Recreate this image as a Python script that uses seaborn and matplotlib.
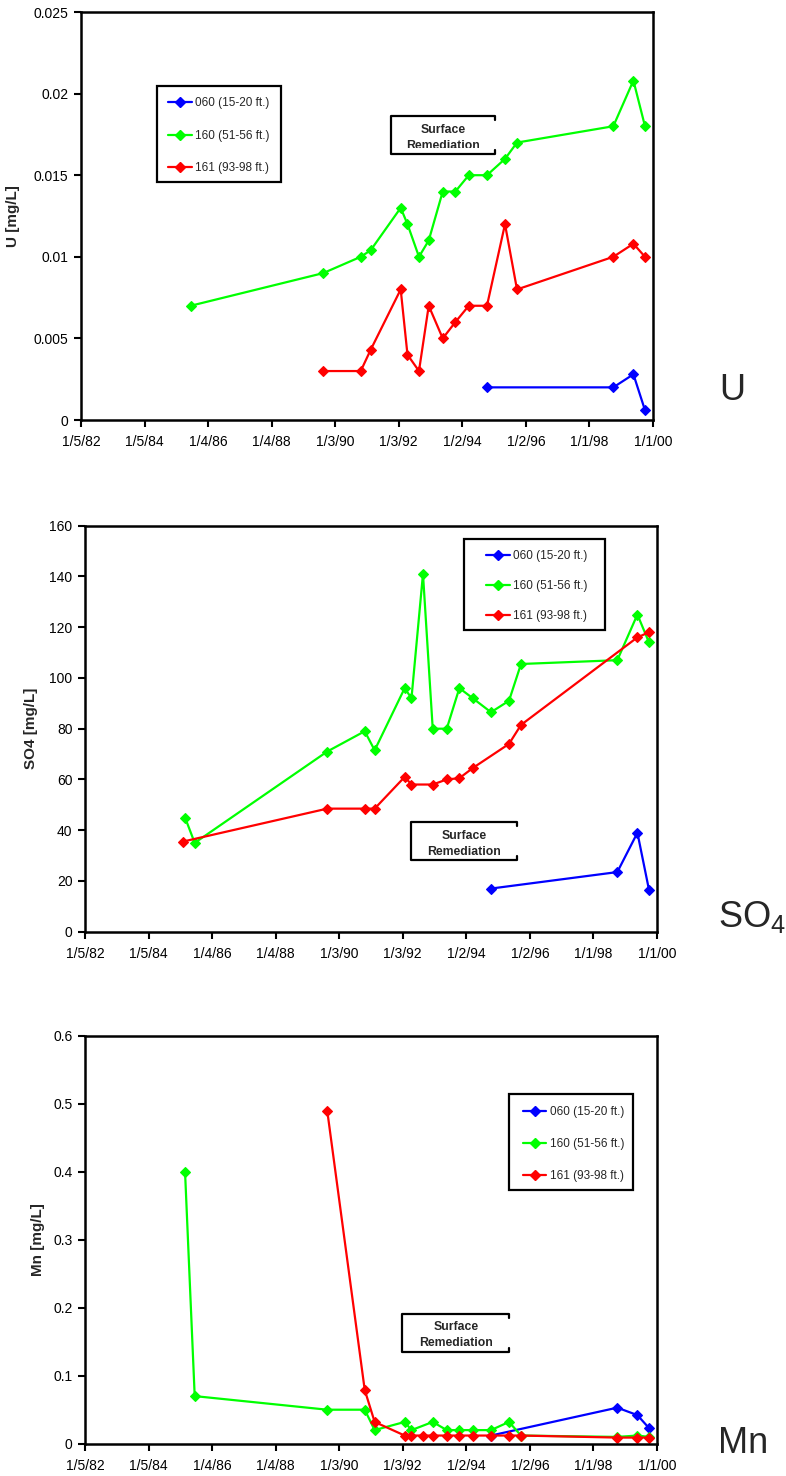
import pandas as pd
import matplotlib
matplotlib.use("Agg")
import matplotlib.pyplot as plt
from matplotlib.lines import Line2D
from matplotlib.patches import Rectangle
from matplotlib.transforms import Bbox, TransformedBbox
import seaborn as sns

W, H = 786, 1476

wells = ["060 (15-20 ft.)", "160 (51-56 ft.)", "161 (93-98 ft.)"]
well_colors = ["#0000ff", "#00ff00", "#ff0000"]

# sampling dates shared by all wells
sample_dates = [
    "1985-02-01", "1985-02-27", "1985-06-18", "1989-08-18", "1990-10-23",
    "1991-02-14", "1992-01-25", "1992-04-12", "1992-08-22", "1992-12-12",
    "1993-05-22", "1993-10-14", "1994-03-17", "1994-10-12", "1995-05-07",
    "1995-09-22", "1998-10-02", "1999-05-21", "1999-10-01",
]

axis_start = "1982-01-05"
axis_end = "2000-01-01"
tick_labels = ["1/5/82", "1/5/84", "1/4/86", "1/4/88", "1/3/90",
               "1/3/92", "1/2/94", "1/2/96", "1/1/98", "1/1/00"]

N = None
# uranium, mg/L
u_060 = [N, N, N, N, N, N, N, N, N, N, N, N, N, 0.002, N, N, 0.002, 0.0028, 0.0006]
u_160 = [N, N, 0.007, 0.009, 0.010, 0.0104, 0.013, 0.012, 0.010, 0.011,
         0.014, 0.014, 0.015, 0.015, 0.016, 0.017, 0.018, 0.0208, 0.018]
u_161 = [N, N, N, 0.003, 0.003, 0.0043, 0.008, 0.004, 0.003, 0.007,
         0.005, 0.006, 0.007, 0.007, 0.012, 0.008, 0.010, 0.0108, 0.010]

# sulfate, mg/L
so4_060 = [N, N, N, N, N, N, N, N, N, N, N, N, N, 17, N, N, 23.5, 39, 16.5]
so4_160 = [N, 45, 35, 71, 79, 71.5, 96, 92, 141, 80,
           80, 96, 92, 86.5, 91, 105.5, 107, 125, 114]
so4_161 = [35.5, N, N, 48.5, 48.5, 48.5, 61, 58, N, 58,
           60, 60.5, 64.5, N, 74, 81.5, N, 116, 118]

# manganese, mg/L
mn_060 = [N, N, N, N, N, N, N, N, N, N, N, N, N, 0.012, N, N, 0.053, 0.042, 0.023]
mn_160 = [N, 0.40, 0.07, 0.05, 0.05, 0.02, 0.032, 0.02, N, 0.032,
          0.02, 0.02, 0.02, 0.02, 0.032, 0.012, 0.010, 0.012, 0.010]
mn_161 = [N, N, N, 0.49, 0.079, 0.032, 0.012, 0.012, 0.012, 0.012,
          0.012, 0.012, 0.012, 0.012, 0.012, 0.012, 0.009, 0.009, 0.009]

u_ticks = [0, 0.005, 0.01, 0.015, 0.02, 0.025]
u_ticklabels = ["0", "0.005", "0.01", "0.015", "0.02", "0.025"]
so4_ticks = [0, 20, 40, 60, 80, 100, 120, 140, 160]
so4_ticklabels = [str(t) for t in so4_ticks]
mn_ticks = [0, 0.1, 0.2, 0.3, 0.4, 0.5, 0.6]
mn_ticklabels = ["0", "0.1", "0.2", "0.3", "0.4", "0.5", "0.6"]


def long_frame(series):
    rows = []
    for well, values in zip(wells, series):
        for d, v in zip(sample_dates, values):
            if v is not None:
                rows.append({"date": pd.Timestamp(d), "value": v, "well": well})
    return pd.DataFrame(rows)


def frac(box, x, y):
    l, t, r, b = box
    return (x - l) / (r - l), (b - y) / (b - t)


panels = [
    dict(box=(81, 12, 653, 420), data=[u_060, u_160, u_161],
         ticks=u_ticks, ticklabels=u_ticklabels, ylabel="U [mg/L]", ylabel_x=20,
         legend_box=(157, 86, 281, 182), legend_anchor=(168, 103.3), legend_step=32.2,
         rem_box=(390.7, 116, 495.3, 154), rem_clip=147.5,
         side="U", side_xy=(719, 400)),
    dict(box=(85, 525.7, 657, 931.7), data=[so4_060, so4_160, so4_161],
         ticks=so4_ticks, ticklabels=so4_ticklabels, ylabel="SO4 [mg/L]", ylabel_x=38,
         legend_box=(464, 539, 605, 630), legend_anchor=(486, 555.7), legend_step=30,
         rem_box=(410.7, 822, 517.3, 860), rem_clip=None,
         side=r"$\mathregular{SO_4}$", side_xy=(718, 927)),
    dict(box=(85, 1035.7, 657, 1443.7), data=[mn_060, mn_160, mn_161],
         ticks=mn_ticks, ticklabels=mn_ticklabels, ylabel="Mn [mg/L]", ylabel_x=45,
         legend_box=(508.7, 1093.7, 633.3, 1190), legend_anchor=(522.7, 1111.7), legend_step=32,
         rem_box=(402.3, 1313.7, 509.3, 1352), rem_clip=None,
         side="Mn", side_xy=(718, 1453)),
]

sns.set_style("ticks")
plt.rcParams["font.family"] = ["Liberation Sans", "DejaVu Sans"]

fig = plt.figure(figsize=(W / 100, H / 100), dpi=100)
palette = dict(zip(wells, well_colors))
tick_dates = pd.date_range(axis_start, periods=len(tick_labels), freq="730D")
LEG_FS = 8.5
MS = 5.0

for p in panels:
    l, t, r, b = p["box"]
    ax = fig.add_axes([l / W, 1 - b / H, (r - l) / W, (b - t) / H])
    df = long_frame(p["data"])
    sns.lineplot(data=df, x="date", y="value", hue="well", hue_order=wells,
                 palette=palette, marker="D", markersize=MS, linewidth=1.6,
                 estimator=None, errorbar=None, legend=False, ax=ax)
    for line in ax.lines:
        line.set_markeredgecolor(line.get_color())
        line.set_markerfacecolor(line.get_color())
        line.set_markeredgewidth(0.8)

    ax.set_xlim(pd.Timestamp(axis_start), pd.Timestamp(axis_end))
    ax.set_xticks(tick_dates)
    ax.set_xticklabels(tick_labels)
    ax.set_ylim(p["ticks"][0], p["ticks"][-1])
    ax.set_yticks(p["ticks"])
    ax.set_yticklabels(p["ticklabels"])
    ax.set_xlabel("")
    ax.set_ylabel(p["ylabel"], fontsize=11, fontweight="bold")
    ax.yaxis.set_label_coords((p["ylabel_x"] - l) / (r - l), 0.5)
    for s in ax.spines.values():
        s.set_visible(True)
        s.set_linewidth(1.8)
        s.set_color("black")
    ax.tick_params(axis="both", direction="out", length=5, width=1.5,
                   labelsize=10, colors="black")
    ax.tick_params(axis="x", pad=6)
    ax.tick_params(axis="y", pad=4)

    # legend: frame drawn separately so padding matches the original boxes
    lx0, ly0, lx1, ly1 = p["legend_box"]
    fx0, fy1 = frac(p["box"], lx0, ly0)
    fx1, fy0 = frac(p["box"], lx1, ly1)
    ax.add_patch(Rectangle((fx0, fy0), fx1 - fx0, fy1 - fy0, transform=ax.transAxes,
                           facecolor="white", edgecolor="black", linewidth=1.6,
                           zorder=4, clip_on=False))
    handles = [Line2D([], [], color=c, marker="D", markersize=MS, linewidth=1.6,
                      markeredgecolor=c) for c in well_colors]
    row_h = LEG_FS * 1.39
    ax_x, ax_y = frac(p["box"], p["legend_anchor"][0], p["legend_anchor"][1] - row_h / 2)
    spacing = (p["legend_step"] - row_h) / (LEG_FS * 1.389)
    ax.legend(handles, wells, loc="upper left", bbox_to_anchor=(ax_x, ax_y),
              borderaxespad=0, borderpad=0, frameon=False, fontsize=LEG_FS,
              handlelength=2.0, handletextpad=0.3, labelspacing=spacing).set_zorder(5)

    # "Surface Remediation" text box (right edge left open as in the original)
    rx0, ry0, rx1, ry1 = p["rem_box"]
    bx0, by1 = frac(p["box"], rx0, ry0)
    bx1, by0 = frac(p["box"], rx1, ry1)
    stub = 4 / (b - t)
    ax.add_patch(Rectangle((bx0, by0), bx1 - bx0, by1 - by0, transform=ax.transAxes,
                           facecolor="white", edgecolor="none", zorder=4))
    ax.add_artist(Line2D([bx1, bx1, bx0, bx0, bx1, bx1],
                         [by1 - stub, by1, by1, by0, by0, by0 + stub],
                         transform=ax.transAxes, color="black", linewidth=1.6,
                         zorder=5, clip_on=False))
    xc = (bx0 + bx1) / 2
    clip_y = ry1 if p["rem_clip"] is None else p["rem_clip"]
    cx0, cy1 = frac(p["box"], rx0, ry0)
    cx1, cy0 = frac(p["box"], rx1, clip_y)
    clip = TransformedBbox(Bbox([[cx0, cy0], [cx1, cy1]]), ax.transAxes)
    for text, dy in (("Surface", 13.7), ("Remediation", 29.7)):
        _, ty = frac(p["box"], rx0, ry0 + dy)
        txt = ax.text(xc, ty, text, transform=ax.transAxes, ha="center", va="center",
                      fontsize=8.8, fontweight="bold", zorder=6)
        txt.set_clip_box(clip)
        txt.set_clip_on(True)

    sx, sy = p["side_xy"]
    fig.text(sx / W, 1 - sy / H, p["side"], fontsize=26, ha="left", va="baseline")

fig.savefig("out.png", dpi=100, facecolor="white")
